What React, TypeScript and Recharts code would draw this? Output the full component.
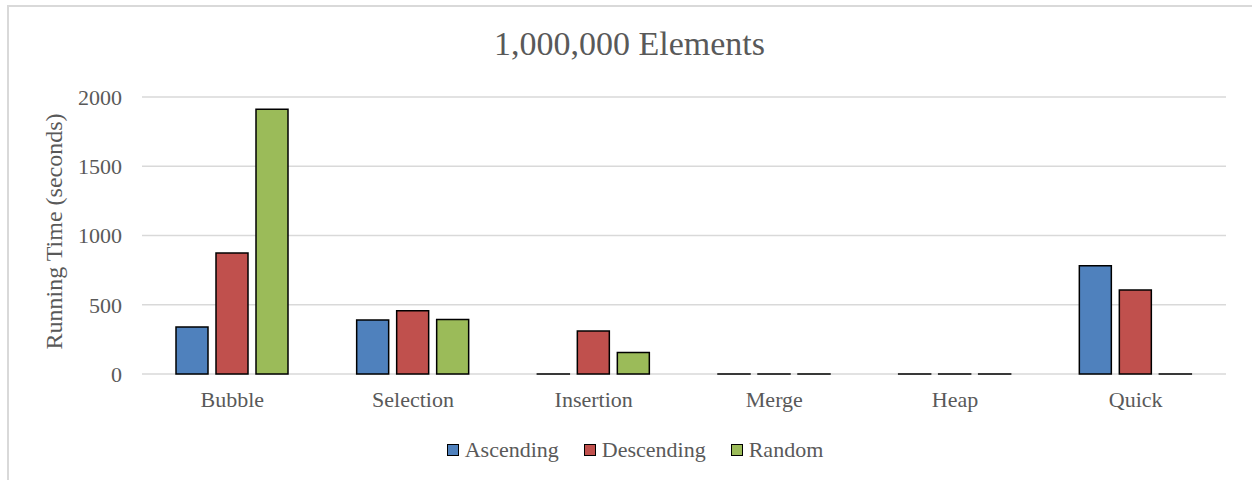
import React from "react";
import { BarChart, Bar, XAxis, YAxis, CartesianGrid, Legend, Label } from "recharts";

const algorithms = ["Bubble", "Selection", "Insertion", "Merge", "Heap", "Quick"];
const ascending = [339, 389, 0.01, 0.2, 0.4, 781];
const descending = [873, 457, 310, 0.2, 0.4, 606];
const random = [1911, 394, 156, 0.3, 0.6, 0.2];
const yTicks = [0, 500, 1000, 1500, 2000];

const series = [
  { key: "ascending", name: "Ascending", color: "#4f81bd" },
  { key: "descending", name: "Descending", color: "#c0504d" },
  { key: "random", name: "Random", color: "#9bbb59" },
];

const data = algorithms.map((name, i) => ({
  name,
  ascending: ascending[i],
  descending: descending[i],
  random: random[i],
}));

const FONT = '"Liberation Serif", "Times New Roman", serif';
const TEXT = "#595959";
const GRID = "#d9d9d9";

// square swatches with a black outline, text in the axis grey
const renderLegend = () => (
  <div
    style={{
      display: "flex",
      justifyContent: "center",
      gap: 25,
      paddingLeft: 44,
      marginTop: 3,
      fontFamily: FONT,
      fontSize: 22,
      color: TEXT,
      lineHeight: "26px",
    }}
  >
    {series.map((s) => (
      <span key={s.key} style={{ display: "flex", alignItems: "center" }}>
        <span
          style={{
            boxSizing: "border-box",
            width: 12,
            height: 12,
            background: s.color,
            border: "1.5px solid #000",
            marginRight: 6,
          }}
        />
        {s.name}
      </span>
    ))}
  </div>
);

export default function App() {
  return (
    <div
      style={{
        position: "absolute",
        left: 0,
        top: 0,
        width: 1252,
        height: 480,
        overflow: "hidden",
        background: "#fff",
      }}
    >
      <div
        style={{
          position: "absolute",
          left: 7,
          top: 5,
          width: 1280,
          height: 500,
          border: `2px solid ${GRID}`,
        }}
      />
      <div
        style={{
          position: "absolute",
          left: 0,
          top: 27,
          width: 1259,
          textAlign: "center",
          fontFamily: FONT,
          fontSize: 34,
          lineHeight: "34px",
          color: TEXT,
        }}
      >
        1,000,000 Elements
      </div>
      <div style={{ position: "absolute", left: 0, top: 0 }}>
        <BarChart
          width={1252}
          height={480}
          data={data}
          barSize={32}
          barGap={8}
          margin={{ top: 97, right: 26, bottom: 6, left: 0 }}
        >
          <CartesianGrid vertical={false} stroke={GRID} strokeWidth={1.5} />
          <XAxis
            dataKey="name"
            axisLine={false}
            tickLine={false}
            tickSize={0}
            tickMargin={17}
            height={60}
            tick={{ fill: TEXT, fontSize: 22, fontFamily: FONT }}
          />
          <YAxis
            width={142}
            domain={[0, 2000]}
            ticks={yTicks}
            axisLine={false}
            tickLine={false}
            tickSize={0}
            tickMargin={20}
            tick={{ fill: TEXT, fontSize: 22, fontFamily: FONT }}
          >
            <Label
              value="Running Time (seconds)"
              angle={-90}
              position="center"
              dx={-18}
              dy={-4}
              style={{ fill: TEXT, fontSize: 24, fontFamily: FONT, textAnchor: "middle" }}
            />
          </YAxis>
          <Legend verticalAlign="bottom" height={40} content={renderLegend} />
          {series.map((s) => (
            <Bar
              key={s.key}
              dataKey={s.key}
              name={s.name}
              fill={s.color}
              stroke="#000"
              strokeWidth={1.5}
              isAnimationActive={false}
            />
          ))}
        </BarChart>
      </div>
    </div>
  );
}
